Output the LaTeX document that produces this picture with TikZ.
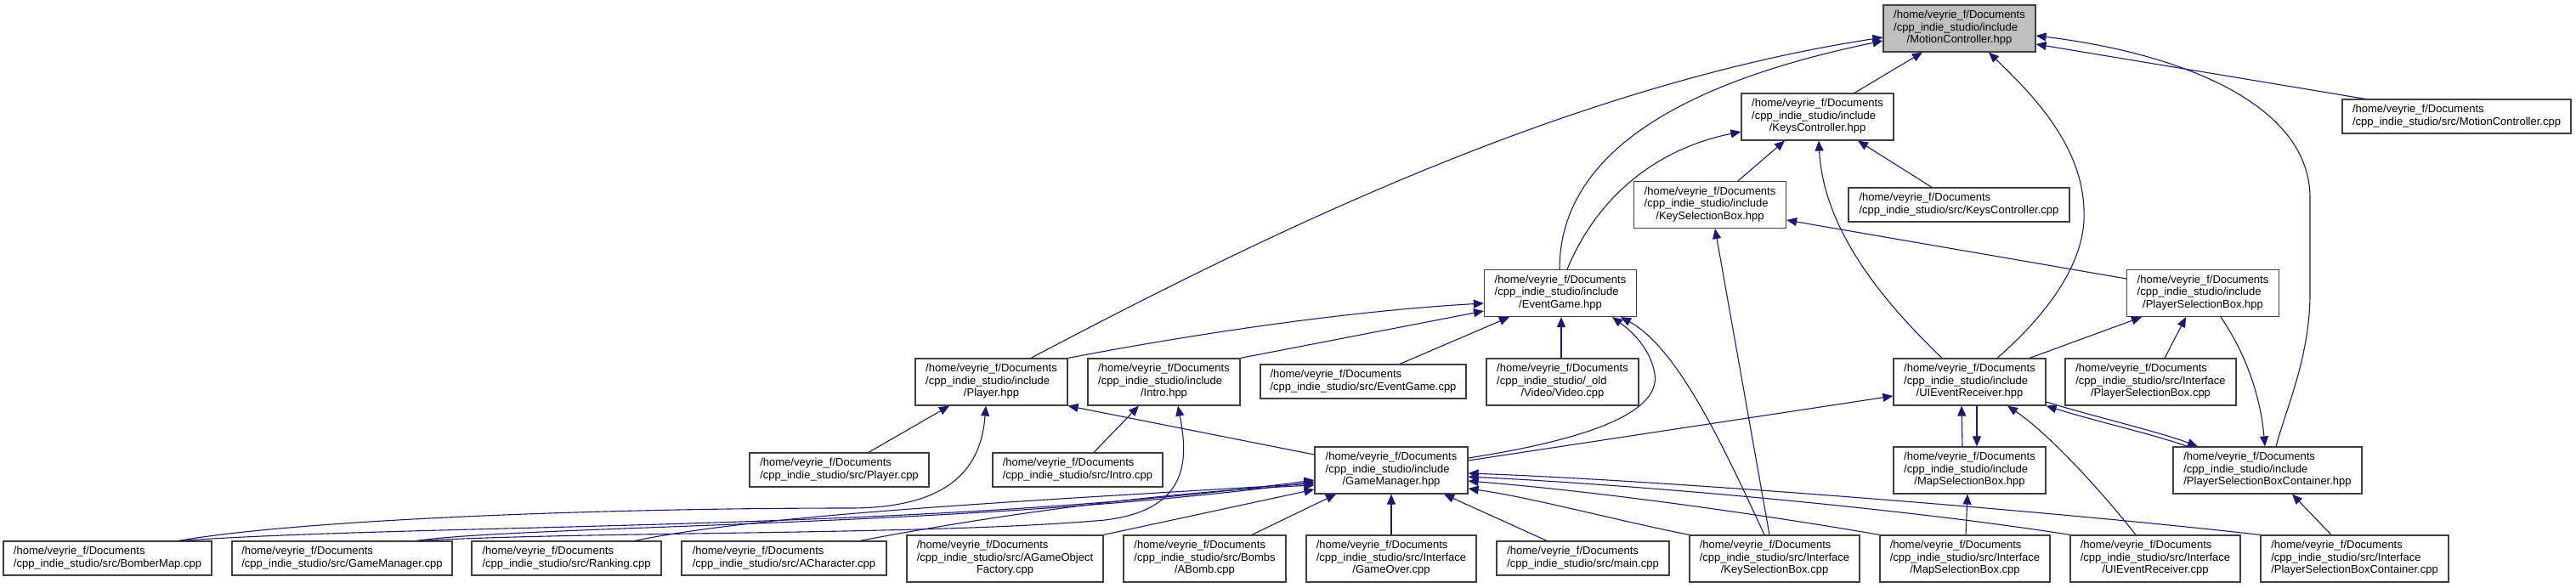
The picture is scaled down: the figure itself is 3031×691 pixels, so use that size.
\documentclass[tikz,border=0pt]{standalone}
\usepackage{fontspec}
\setmainfont{Liberation Sans}
\usetikzlibrary{arrows.meta,calc}
\definecolor{edgeblue}{HTML}{191970}
\definecolor{boxgrey}{HTML}{BFBFBF}
\newcommand\threeL[3]{\begin{tabular}{@{}l@{}}#1\\#2\\\multicolumn{1}{@{}c@{}}{#3}\end{tabular}}
\newcommand\twoL[2]{\begin{tabular}{@{}l@{}}#1\\#2\end{tabular}}
\newcommand\pHome{/home/veyrie\_f/Documents}
\newcommand\pInc{/cpp\_indie\_studio/include}
\newcommand\pSrc{/cpp\_indie\_studio/src}
\begin{document}
\begin{tikzpicture}[x=1pt,y=-1pt,
  dbox/.style={draw=black!75, line width=1.2pt, fill=white, inner sep=0pt,
    font=\fontsize{13}{14.5}\selectfont, text=black},
  bthree/.style={dbox, minimum width=179pt, minimum height=55pt},
  btwo/.style={dbox, minimum height=40pt},
  dep/.style={draw=edgeblue, line width=1.1pt, -{Triangle[length=12pt,width=10pt]}}]
\useasboundingbox (0,0) rectangle (3031,691);

% ---- nodes ----
\node[bthree, fill=boxgrey] (mc) at (2305.5,33.5) {\threeL{\pHome}{\pInc}{/MotionController.hpp}};
\node[bthree] (kc) at (2138.5,137.5) {\threeL{\pHome}{\pInc}{/KeysController.hpp}};
\node[btwo, minimum width=260pt] (kccpp) at (2305,241) {\twoL{\pHome}{\pSrc/KeysController.cpp}};
\node[btwo, minimum width=269pt] (mccpp) at (2890.5,137) {\twoL{\pHome}{\pSrc/MotionController.cpp}};
\node[bthree] (ksb) at (2012,241) {\threeL{\pHome}{\pInc}{/KeySelectionBox.hpp}};
\node[bthree] (eg) at (1836,345) {\threeL{\pHome}{\pInc}{/EventGame.hpp}};
\node[bthree] (psb) at (2592,345) {\threeL{\pHome}{\pInc}{/PlayerSelectionBox.hpp}};
\node[bthree] (player) at (1166.5,449.5) {\threeL{\pHome}{\pInc}{/Player.hpp}};
\node[bthree] (intro) at (1369.5,449.5) {\threeL{\pHome}{\pInc}{/Intro.hpp}};
\node[btwo, minimum width=242pt] (egcpp) at (1604,449) {\twoL{\pHome}{\pSrc/EventGame.cpp}};
\node[bthree] (video) at (1838.5,449.5) {\threeL{\pHome}{/cpp\_indie\_studio/\_old}{/Video/Video.cpp}};
\node[bthree] (uier) at (2317.5,449.5) {\threeL{\pHome}{\pInc}{/UIEventReceiver.hpp}};
\node[bthree, minimum width=201pt] (psbcpp) at (2530.5,449.5) {\threeL{\pHome}{\pSrc/Interface}{/PlayerSelectionBox.cpp}};
\node[btwo, minimum width=211pt] (playercpp) at (987.5,553) {\twoL{\pHome}{\pSrc/Player.cpp}};
\node[btwo, minimum width=200pt] (introcpp) at (1268,553) {\twoL{\pHome}{\pSrc/Intro.cpp}};
\node[bthree, minimum width=180pt] (gm) at (1637,553.5) {\threeL{\pHome}{\pInc}{/GameManager.hpp}};
\node[bthree] (msb) at (2317.5,553.5) {\threeL{\pHome}{\pInc}{/MapSelectionBox.hpp}};
\node[bthree, minimum width=222pt] (psbc) at (2668,553.5) {\threeL{\pHome}{\pInc}{/PlayerSelectionBoxContainer.hpp}};
\node[btwo, minimum width=245pt] (bombermap) at (126.5,657) {\twoL{\pHome}{\pSrc/BomberMap.cpp}};
\node[btwo, minimum width=259pt] (gmcpp) at (402.5,657) {\twoL{\pHome}{\pSrc/GameManager.cpp}};
\node[btwo, minimum width=223pt] (ranking) at (666.5,657) {\twoL{\pHome}{\pSrc/Ranking.cpp}};
\node[btwo, minimum width=241pt] (acharacter) at (922.5,657) {\twoL{\pHome}{\pSrc/ACharacter.cpp}};
\node[bthree, minimum width=231pt] (agof) at (1182.5,657.5) {\threeL{\pHome}{\pSrc/AGameObject}{Factory.cpp}};
\node[bthree, minimum width=191pt] (abomb) at (1417.5,657.5) {\threeL{\pHome}{\pSrc/Bombs}{/ABomb.cpp}};
\node[bthree, minimum width=200pt] (gameover) at (1637,657.5) {\threeL{\pHome}{\pSrc/Interface}{/GameOver.cpp}};
\node[btwo, minimum width=203pt] (mainc) at (1862.5,657) {\twoL{\pHome}{\pSrc/main.cpp}};
\node[bthree, minimum width=200pt] (ksbcpp) at (2088,657.5) {\threeL{\pHome}{\pSrc/Interface}{/KeySelectionBox.cpp}};
\node[bthree, minimum width=200pt] (msbcpp) at (2312,657.5) {\threeL{\pHome}{\pSrc/Interface}{/MapSelectionBox.cpp}};
\node[bthree, minimum width=200pt] (uiercpp) at (2536,657.5) {\threeL{\pHome}{\pSrc/Interface}{/UIEventReceiver.cpp}};
\node[bthree, minimum width=221pt] (psbccpp) at (2770.5,657.5) {\threeL{\pHome}{\pSrc/Interface}{/PlayerSelectionBoxContainer.cpp}};

% ---- edges into MotionController.hpp ----
\draw[dep] (kc.north -| 2182,0) -- (mc.south -| 2262,0);
\draw[dep] (mccpp.north -| 2783,0) -- (mc.east |- 0,52);
\draw[dep] (psbc.north -| 2678,0) .. controls (2690,480) and (2718,420) .. (2718,345)
  -- (2718,233) .. controls (2718,120) and (2560,62) .. (mc.east |- 0,42);
\draw[dep] (player.north -| 1213,0) .. controls (1500,270) and (1850,100) .. (mc.west |- 0,44);
\draw[dep] (eg.north -| 1835,0) .. controls (1835,200) and (1940,105) .. (mc.west |- 0,48);
\draw[dep] (uier.north -| 2350,0) .. controls (2420,360) and (2455,300) .. (2452,247)
  .. controls (2450,170) and (2390,110) .. (mc.south -| 2340,0);

% ---- edges into KeysController.hpp ----
\draw[dep] (eg.north -| 1844,0) .. controls (1880,230) and (1950,175) .. (kc.west |- 0,155);
\draw[dep] (ksb.north -| 2045,0) -- (kc.south -| 2100,0);
\draw[dep] (kccpp.north -| 2273,0) -- (kc.south -| 2186,0);
\draw[dep] (uier.north -| 2285,0) .. controls (2200,340) and (2145,260) .. (kc.south -| 2140,0);

% ---- KeySelectionBox.hpp ----
\draw[dep] (ksbcpp.north -| 2082,0) -- (ksb.south -| 2018,0);
\draw[dep] (psb.west |- 0,328) -- (ksb.east |- 0,259);

% ---- EventGame.hpp ----
\draw[dep] (player.north east) .. controls (1420,390) and (1600,365) .. (eg.west |- 0,357);
\draw[dep] (intro.north east) -- (eg.west |- 0,366);
\draw[dep] (egcpp.north -| 1647,0) -- (eg.south -| 1776,0);
\draw[dep] (video.north -| 1837,0) -- (eg.south -| 1837,0);
\draw[dep] (gm.east |- 0,539) .. controls (1850,520) and (1955,490) .. (1947,440)
  .. controls (1942,410) and (1920,390) .. (eg.south -| 1897,0);
\draw[dep] (ksbcpp.north -| 2076,0) .. controls (2030,530) and (1975,410) .. (eg.south -| 1907,0);

% ---- PlayerSelectionBox.hpp ----
\draw[dep] (uier.north -| 2388,0) -- (psb.south -| 2520,0);
\draw[dep] (psbcpp.north -| 2547,0) -- (psb.south -| 2572,0);

% ---- PlayerSelectionBoxContainer.hpp ----
\draw[dep] (psb.south -| 2613,0) .. controls (2645,420) and (2660,470) .. (psbc.north -| 2665,0);
\draw[dep] (uier.east |- 0,473) .. controls (2470,492) and (2540,508) .. (psbc.north -| 2586,0);
\draw[dep] (psbc.north -| 2574,0) .. controls (2530,510) and (2470,497) .. (uier.south east);
\draw[dep] (psbccpp.north -| 2743,0) -- (psbc.south -| 2697,0);

% ---- UIEventReceiver.hpp / MapSelectionBox.hpp ----
\draw[dep] (msb.north -| 2309,0) -- (uier.south -| 2308,0);
\draw[dep] (uier.south -| 2326,0) -- (msb.north -| 2326,0);
\draw[dep] (uiercpp.north -| 2513,0) .. controls (2470,575) and (2410,510) .. (uier.south -| 2362,0);
\draw[dep] (gm.east |- 0,542) -- (uier.west |- 0,466);
\draw[dep] (msbcpp.north -| 2313,0) -- (msb.south -| 2315,0);

% ---- Player.hpp / Intro.hpp ----
\draw[dep] (playercpp.north -| 1022,0) -- (player.south -| 1117,0);
\draw[dep] (introcpp.north -| 1287,0) -- (intro.south -| 1340,0);
\draw[dep] (gm.west |- 0,535) -- (player.south east);
\draw[dep] (bombermap.north -| 210,0) .. controls (350,612) and (700,598) .. (1000,598)
  .. controls (1130,598) and (1155,540) .. (player.south -| 1160,0);
\draw[dep] (gmcpp.north -| 492,0) .. controls (700,625) and (1100,630) .. (1300,612)
  .. controls (1400,600) and (1398,540) .. (intro.south -| 1386,0);

% ---- GameManager.hpp ----
\draw[dep] (bombermap.north -| 212,0) .. controls (500,616) and (1100,625) .. (gm.west |- 0,565);
\draw[dep] (gmcpp.north -| 490,0) .. controls (620,618) and (1150,620) .. (gm.west |- 0,567);
\draw[dep] (ranking.north -| 747,0) .. controls (900,605) and (1200,590) .. (gm.west |- 0,569);
\draw[dep] (acharacter.north -| 1012,0) .. controls (1150,610) and (1350,580) .. (gm.west |- 0,571);
\draw[dep] (agof.north east) -- (gm.west |- 0,576);
\draw[dep] (abomb.north -| 1473,0) -- (gm.south -| 1572,0);
\draw[dep] (gameover.north) -- (gm.south);
\draw[dep] (mainc.north -| 1820,0) -- (gm.south -| 1699,0);
\draw[dep] (ksbcpp.north west) .. controls (1900,612) and (1800,585) .. (gm.east |- 0,575);
\draw[dep] (msbcpp.north west) .. controls (2100,610) and (1900,580) .. (gm.east |- 0,566);
\draw[dep] (uiercpp.north west) .. controls (2250,600) and (1950,572) .. (gm.east |- 0,561);
\draw[dep] (psbccpp.north west) .. controls (2400,600) and (1950,565) .. (gm.east |- 0,557);
\end{tikzpicture}
\end{document}
